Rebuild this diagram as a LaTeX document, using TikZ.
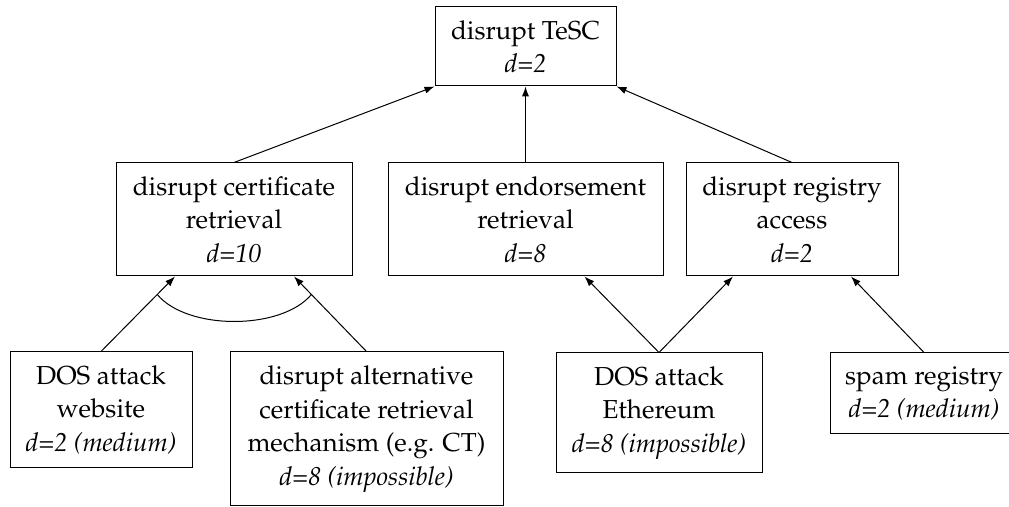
\documentclass[tikz,border=0pt]{standalone}
\usepackage[T1]{fontenc}
\usepackage{mathpazo}
\usetikzlibrary{arrows.meta,calc}
\tikzset{
  box/.style={draw, rectangle, line width=0.5pt, inner sep=0pt, align=center,
    font=\fontsize{13}{16.75}\selectfont},
  arr/.style={-{Latex[length=5pt,width=3.6pt]}, line width=0.5pt},
  conn/.style={line width=0.5pt}
}
\begin{document}
\begin{tikzpicture}[x=0.5pt,y=-0.5pt]
\useasboundingbox (0,0) rectangle (1009,507);
\clip (0,0) rectangle (1009,507);
\node[box, minimum width=90.5pt, minimum height=39.5pt] (tesc) at (525.5,46.5) {disrupt TeSC\\\textit{d=2}};
\node[box, minimum width=118pt, minimum height=56.5pt] (cert) at (234,219.5) {disrupt certificate\\retrieval\\\textit{d=10}};
\node[box, minimum width=137.5pt, minimum height=56.5pt] (endo) at (525.5,219.5) {disrupt endorsement\\retrieval\\\textit{d=8}};
\node[box, minimum width=106pt, minimum height=56.5pt] (reg) at (792,219.5) {disrupt registry\\access\\\textit{d=2}};
\node[box, minimum width=91pt, minimum height=58pt] (dosw) at (101,410) {DOS attack\\website\\\textit{d=2 (medium)}};
\node[box, minimum width=136.5pt, minimum height=77pt] (alt) at (366.5,429) {disrupt alternative\\certificate retrieval\\mechanism (e.g. CT)\\\textit{d=8 (impossible)}};
\node[box, minimum width=103pt, minimum height=60pt] (dose) at (659,413) {DOS attack\\Ethereum\\\textit{d=8 (impossible)}};
\node[box, minimum width=94pt, minimum height=40.5pt] (spam) at (924,393.5) {spam registry\\\textit{d=2 (medium)}};

\draw[arr] (cert.north) -- (tesc.south west);
\draw[arr] (endo.north) -- (tesc.south);
\draw[arr] (reg.north) -- (tesc.south east);

\coordinate (certL) at ($(cert.south)+(-59,0)$);
\coordinate (certR) at ($(cert.south)+(60,0)$);
\draw[arr] (dosw.north) -- (certL);
\draw[arr] (alt.north) -- (certR);
\draw[conn] ($(dosw.north)!0.76!(certL)$) .. controls +(30,36) and +(-30,36) .. ($(alt.north)!0.76!(certR)$);

\draw[arr] (dose.north) -- ($(endo.south)+(59,0)$);
\draw[arr] (dose.north) -- ($(reg.south)+(-59,0)$);
\draw[arr] (spam.north) -- ($(reg.south)+(59,0)$);
\end{tikzpicture}
\end{document}
